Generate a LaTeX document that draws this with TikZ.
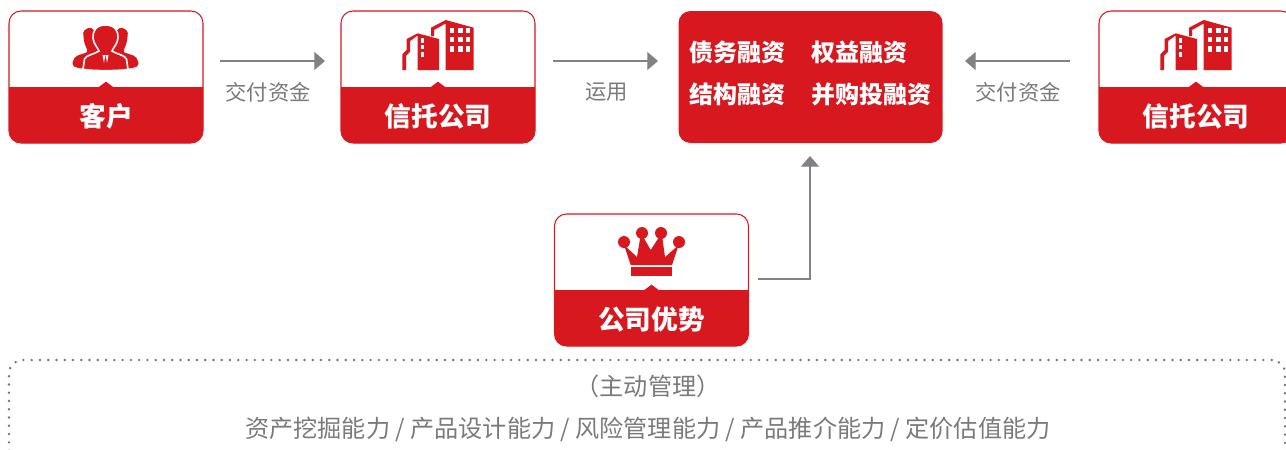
\documentclass[tikz,border=0pt]{standalone}
\usepackage{fontspec}
\setmainfont{Noto Sans CJK SC}
\definecolor{cardred}{HTML}{D7181F}
\definecolor{linegray}{HTML}{808285}
\definecolor{textgray}{HTML}{7A7A7A}
\usetikzlibrary{arrows.meta}
\newcommand{\towericon}[1]{%
  \begin{scope}[shift={(#1)}]
    % right block with its thin side wall
    \fill[cardred] (-7,-41) -- (-7,-49.3) -- (7.7,-57) -- (35.7,-49.3) -- (35.7,-7) -- (7.7,-7) -- (7.7,-53.5) -- (-4,-47) -- (-4,-41) -- cycle;
    % left block with its stepped wall
    \fill[cardred] (-20.3,-43.7) -- (1,-38) -- (1,-7) -- (-20.3,-7) -- (-20.3,-41.5) -- (-28,-36) -- (-28,-25.3) -- (-32,-21) -- (-32,-7) -- (-35.7,-7) -- (-35.7,-22.7) -- (-31.3,-27) -- (-31.3,-38) -- cycle;
    \foreach \y/\h in {-38.7/5, -32/4.3, -25.3/5}{
      \fill[white] (-17,\y) rectangle +(3.3,\h);
    }
    \foreach \x in {12, 20.3, 27.7}{
      \foreach \y in {-49.3, -40.3, -31}{
        \fill[white] (\x,\y) rectangle +(4.2,5.6);
      }
    }
  \end{scope}}
\begin{document}
\begin{tikzpicture}[x=0.75pt,y=-0.75pt]
    \tikzstyle{every node}=[inner sep=0pt, outer sep=0pt]
    \tikzstyle{card}=[draw=cardred, fill=white, line width=0.8pt, rounded corners=9pt, minimum width=145.5pt, minimum height=99pt]
    \tikzstyle{cardtext}=[text=white, font=\fontsize{20}{20}\selectfont\bfseries]
    \tikzstyle{flowtext}=[text=textgray, font=\fontsize{16}{16}\selectfont]
    \tikzstyle{boxtext}=[text=textgray, font=\fontsize{18.1}{18}\selectfont]
    \tikzstyle{fundtext}=[text=white, font=\fontsize{18}{18}\selectfont\bfseries]
    \tikzstyle{flow}=[draw=linegray, line width=0.9pt, -{Triangle[length=8pt,width=13.5pt]}]

    \clip (0,0) rectangle (1286,450);

    % the three kinds of card
    \node[card] (kehu) at (106,77) {};
    \node[card] (xintuo) at (438,77) {};
    \node[card] (xintuob) at (1196,77) {};
    \node[card] (youshi) at (651.5,280) {};
    \foreach \c/\t in {kehu/客户, xintuo/信托公司, xintuob/信托公司, youshi/公司优势}{
      \fill[cardred] ([yshift=-57pt]\c.north west) [sharp corners] -- ([yshift=-57pt]\c.north east) [rounded corners=9pt] -- (\c.south east) -- (\c.south west) [sharp corners] -- cycle;
      \fill[cardred] ([shift={(-6pt,-57.5pt)}]\c.north) -- ([yshift=-53pt]\c.north) -- ([shift={(6pt,-57.5pt)}]\c.north) -- cycle;
      \node[cardtext] (\c text) at ([yshift=-79.2pt]\c.north) {\t};
    }

    \node[fill=cardred, rounded corners=9pt, minimum width=198pt, minimum height=99pt] (rongzi) at (810.5,77) {};
    \node[fundtext] (zhaiwu) at (737,52) {债务融资};
    \node[fundtext] (quanyi) at (859.5,52) {权益融资};
    \node[fundtext] (jiegou) at (737,94.5) {结构融资};
    \node[fundtext] (binggou) at (871.5,94.5) {并购投融资};

    % people icon
    \fill[cardred, rounded corners=1.5pt] (90,27) -- (83,31) -- (84,42) -- (88,52) -- (76,56) -- (73,60) -- (72.3,66) -- (82,69) -- (100,60) -- (100,35) -- cycle;
    \fill[cardred, rounded corners=1.5pt] (121,27) -- (128,31) -- (127,42) -- (123,52) -- (135,56) -- (138,60) -- (138.7,66) -- (129,69) -- (111,60) -- (111,35) -- cycle;
    \filldraw[fill=cardred, draw=white, line width=1.2pt] (105.5,25) .. controls (96,25) and (92.5,31) .. (93,38) .. controls (93.5,44) and (98,48) .. (99,51) .. controls (95,54) and (86,55) .. (84.5,59) -- (83,69.5) .. controls (95,71) and (116,71) .. (128,69.5) -- (126.5,59) .. controls (125,55) and (116,54) .. (112,51) .. controls (113,48) and (117.5,44) .. (118,38) .. controls (118.5,31) and (115,25) .. (105.5,25) -- cycle;
    \fill[white] (102.5,55) -- (104,63) -- (105.3,55) -- cycle (105.7,55) -- (107,63) -- (108.5,55) -- cycle;

    \towericon{438,77}
    \towericon{1196,77}

    % crown icon
    \fill[cardred] (630.7,265) -- (624,245) -- (637,257) -- (641,233) -- (650.7,250) -- (661.7,233) -- (665,257) -- (678.7,245) -- (672,265) -- cycle;
    \foreach \x/\y in {624/242, 642/233, 661/233, 679/242}{
      \fill[cardred] (\x,\y) circle (4.5pt);
    }
    \fill[cardred] (631,267) rectangle (672,276);

    % connectors
    \coordinate (kehuout) at (220,61);
    \coordinate (xintuoin) at (325,61);
    \coordinate (xintuoout) at (553,61);
    \coordinate (rongziin) at (658,61);
    \coordinate (xintuobout) at (1070,61);
    \coordinate (rongziinb) at (965,61);
    \coordinate (youshiout) at (758,279);
    \coordinate (rongzidown) at (810,156);
    \draw[flow] (kehuout) -- (xintuoin);
    \draw[flow] (xintuoout) -- (rongziin);
    \draw[flow] (xintuobout) -- (rongziinb);
    \draw[flow] (youshiout) -| (rongzidown);

    \node[flowtext] (jiaofu) at (268,92) {交付资金};
    \node[flowtext] (yunyong) at (606.5,92.5) {运用};
    \node[flowtext] (jiaofub) at (1018,92) {交付资金};

    % the bottom box runs off the picture
    \node[draw=linegray!90!black, dash pattern=on 0pt off 6.2pt, line cap=round, line width=2pt, rounded corners=10pt, minimum width=957pt, minimum height=90pt, anchor=north west] (guanli) at (9,360) {};
    \node[boxtext] (zhudong) at (648,386.5) {（主动管理）};
    \node[boxtext] (nengli) at (648,429.5) {资产挖掘能力 / 产品设计能力 / 风险管理能力 / 产品推介能力 / 定价估值能力};
\end{tikzpicture}
\end{document}
